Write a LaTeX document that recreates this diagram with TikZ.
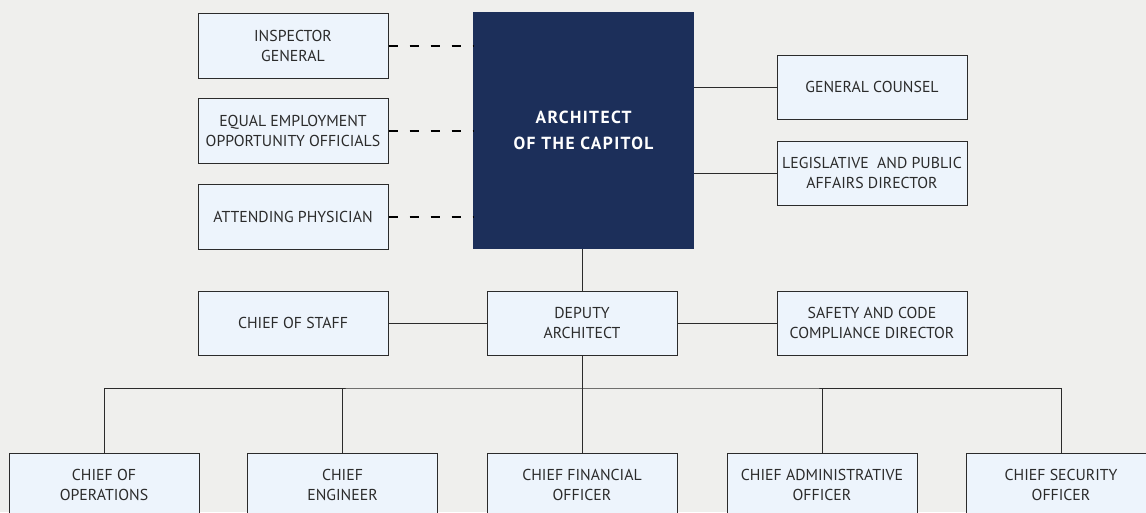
\documentclass[tikz,border=0pt]{standalone}
\usepackage{fontspec}
\setmainfont{PT Sans}
\newfontfamily\titlefont[LetterSpace=8]{PT Sans}
\definecolor{bgcol}{HTML}{EFEFED}
\definecolor{boxcol}{HTML}{EDF4FC}
\definecolor{navy}{HTML}{1C2F5A}
\definecolor{inkcol}{HTML}{2B2B2B}
\tikzset{
	orgbox/.style={draw=inkcol,line width=1pt,fill=boxcol,text=inkcol,minimum width=190,minimum height=64,align=center,inner sep=0pt,font=\fontsize{15.8}{20}\selectfont},
	link/.style={draw=inkcol,line width=1pt},
	dotlink/.style={draw=black,line width=2pt,dash pattern=on 9pt off 12pt}
}
\begin{document}
\begin{tikzpicture}[x=1pt,y=-1pt]
		\fill[bgcol] (0,0) rectangle (1146,512);
		\useasboundingbox (0,0) rectangle (1146,512);
		\clip (0,0) rectangle (1146,512);
		% top row
		\node[fill=navy,minimum width=221,minimum height=237,inner sep=0pt,align=center,text=white,font=\titlefont\bfseries\fontsize{17.5}{26}\selectfont] (aoc) at (583.5,130.5) {ARCHITECT\\OF THE CAPITOL};
		\node[orgbox,minimum height=65] (insp) at (293,45.5) {INSPECTOR\\GENERAL};
		\node[orgbox,minimum height=65] (eeo) at (293,130.5) {EQUAL EMPLOYMENT\\OPPORTUNITY OFFICIALS};
		\node[orgbox,minimum height=65] (phys) at (293,216.5) {ATTENDING PHYSICIAN};
		\node[orgbox] (gc) at (872,87) {GENERAL COUNSEL};
		\node[orgbox] (lpa) at (872,173) {LEGISLATIVE\ \ AND PUBLIC\\AFFAIRS DIRECTOR};
		% middle row
		\node[orgbox] (dep) at (582,323) {DEPUTY\\ARCHITECT};
		\node[orgbox] (cos) at (293,323) {CHIEF OF STAFF};
		\node[orgbox] (saf) at (872,323) {SAFETY AND CODE\\COMPLIANCE DIRECTOR};
		% bottom row
		\node[orgbox] (ops) at (104,485) {CHIEF OF\\OPERATIONS};
		\node[orgbox] (eng) at (342.5,485) {CHIEF\\ENGINEER};
		\node[orgbox] (cfo) at (582,485) {CHIEF FINANCIAL\\OFFICER};
		\node[orgbox] (cao) at (822,485) {CHIEF ADMINISTRATIVE\\OFFICER};
		\node[orgbox] (cso) at (1061,485) {CHIEF SECURITY\\OFFICER};
		\coordinate (bus) at (582,388);
		% connectors
		\draw[dotlink] (insp.east) -- (insp.east -| aoc.west);
		\draw[dotlink] (eeo.east) -- (eeo.east -| aoc.west);
		\draw[dotlink] (phys.east) -- (phys.east -| aoc.west);
		\draw[link] (gc.west) -- (gc.west -| aoc.east);
		\draw[link] (lpa.west) -- (lpa.west -| aoc.east);
		\draw[link] (aoc.south -| dep.north) -- (dep.north);
		\draw[link] (dep.west) -- (cos.east);
		\draw[link] (dep.east) -- (saf.west);
		\draw[link] (dep.south) -- (bus);
		\draw[link] (ops.north) |- (bus) -| (cso.north);
		\draw[link] (eng.north) -- (eng.north |- bus);
		\draw[link] (cfo.north) -- (bus);
		\draw[link] (cao.north) -- (cao.north |- bus);
	\end{tikzpicture}
\end{document}
